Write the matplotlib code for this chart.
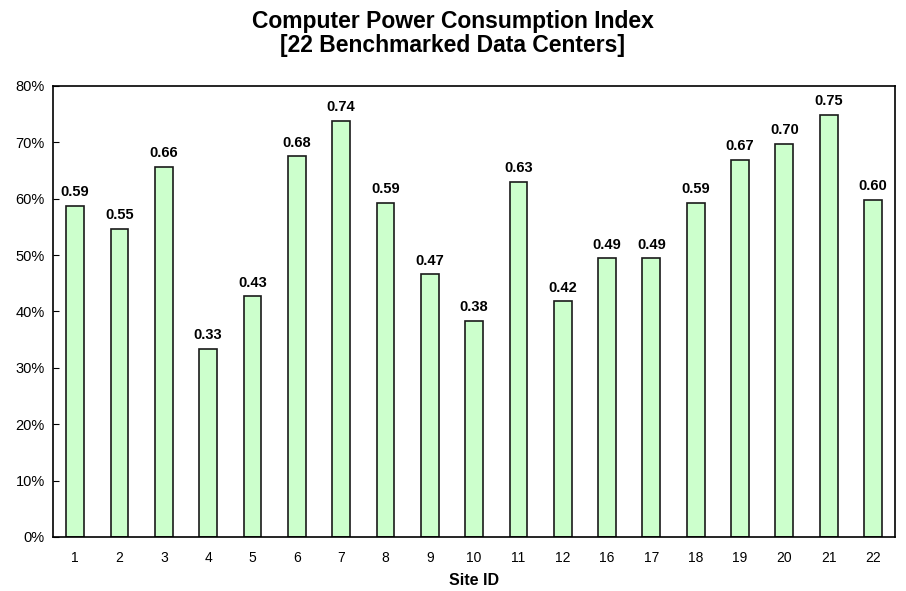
import matplotlib.pyplot as plt
from matplotlib.ticker import PercentFormatter

plt.rcParams['font.family'] = ['Liberation Sans', 'DejaVu Sans']

site_ids = ["1", "2", "3", "4", "5", "6", "7", "8", "9", "10", "11", "12",
            "16", "17", "18", "19", "20", "21", "22"]
cpci = [0.587, 0.547, 0.657, 0.333, 0.427, 0.675, 0.738, 0.592, 0.466, 0.384,
        0.630, 0.418, 0.494, 0.494, 0.592, 0.669, 0.697, 0.749, 0.598]

fig = plt.figure(figsize=(9.06, 5.91), dpi=100)
ax = fig.add_axes([0.0585, 0.0914, 0.9295, 0.7631])

x = range(len(site_ids))
bars = ax.bar(x, cpci, width=0.4, color="#CCFFCC", edgecolor="#1a1a1a", linewidth=1.2)

for rect, v in zip(bars, cpci):
    ax.text(rect.get_x() + rect.get_width() / 2, v + 0.012, f"{v:.2f}",
            ha="center", va="bottom", fontsize=10.5, fontweight="bold")

ax.set_xlim(-0.5, len(site_ids) - 0.5)
ax.set_ylim(0, 0.8)
ax.set_yticks([i / 10 for i in range(9)])
ax.yaxis.set_major_formatter(PercentFormatter(1.0, decimals=0))
ax.set_xticks(list(x))
ax.set_xticklabels(site_ids)
ax.tick_params(axis="x", length=0, pad=10, labelsize=10)
ax.tick_params(axis="y", direction="in", length=4, labelsize=10.5, pad=6)
for sp in ax.spines.values():
    sp.set_linewidth(1.2)
ax.set_xlabel("Site ID", fontsize=11.5, fontweight="bold", labelpad=6)

fig.suptitle("Computer Power Consumption Index\n[22 Benchmarked Data Centers]",
             fontsize=16.5, fontweight="bold", y=0.983, linespacing=1.05)

fig.savefig("out.png", dpi=100)
